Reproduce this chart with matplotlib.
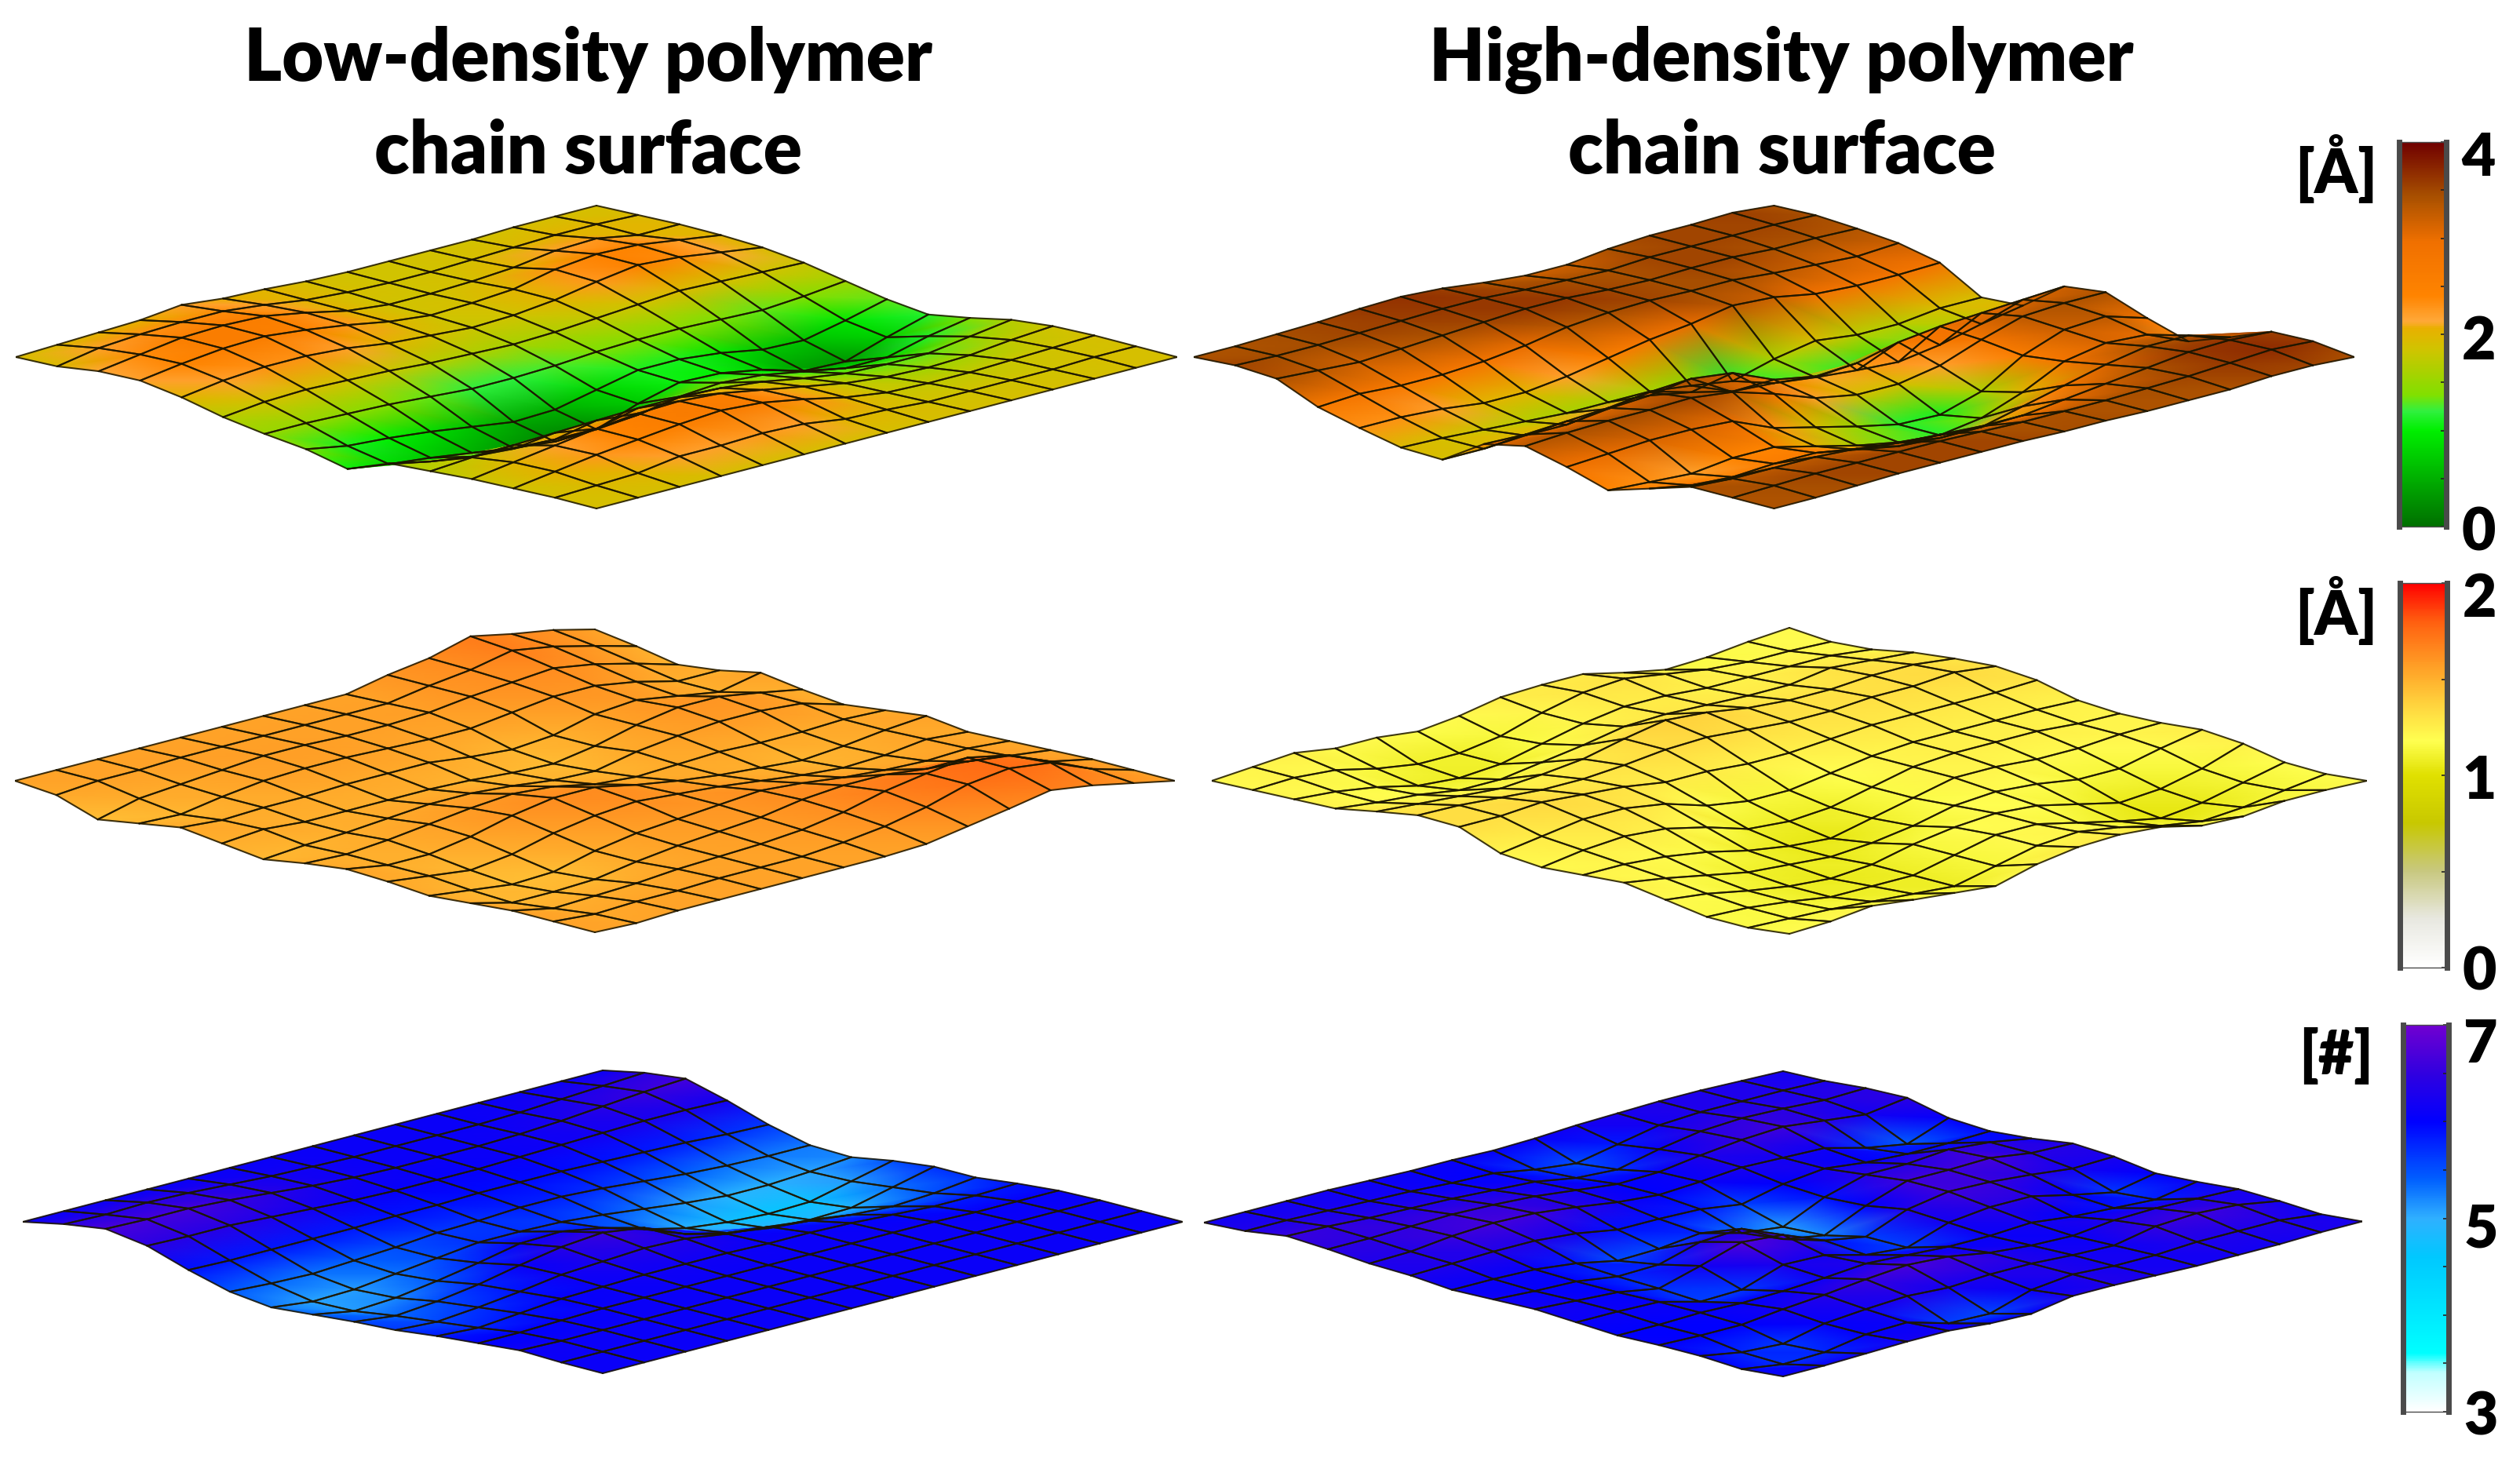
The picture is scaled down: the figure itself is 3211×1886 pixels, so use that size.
import numpy as np
import matplotlib
matplotlib.use("Agg")
import matplotlib.pyplot as plt
from matplotlib.collections import LineCollection
from matplotlib.colors import LinearSegmentedColormap, Normalize
from matplotlib.cm import ScalarMappable
from matplotlib.ticker import FixedLocator
from matplotlib.transforms import ScaledTranslation

plt.rcParams['font.family'] = ['Lato', 'DejaVu Sans']
plt.rcParams['font.weight'] = 'heavy'

# Rows run from the front-left edge to the back-right edge of each surface.
low_top = [
 [1.9,1.95,2.15,2.2,2.0,1.7,1.5,1.35,1.05,1.6,1.7,1.8,1.85,1.9,1.9],
 [1.95,2.2,2.35,2.4,2.2,1.85,1.5,1.1,0.85,1.3,1.8,2.0,2.05,1.95,1.9],
 [2.0,2.3,2.55,2.55,2.3,1.9,1.45,1.0,0.7,1.1,1.85,2.2,2.25,2.0,1.9],
 [2.05,2.35,2.6,2.6,2.3,1.85,1.4,0.85,0.5,1.0,1.9,2.4,2.4,2.2,1.9],
 [2.2,2.35,2.55,2.45,2.2,1.8,1.3,0.65,0.3,0.95,1.95,2.55,2.55,2.2,1.9],
 [2.05,2.2,2.3,2.25,2.0,1.7,1.2,0.45,0.15,0.95,2.0,2.6,2.65,2.25,1.9],
 [2.0,2.0,2.0,2.0,1.9,1.65,1.2,0.5,0.2,1.05,2.0,2.5,2.55,2.2,1.9],
 [1.9,1.9,1.85,1.85,1.8,1.6,1.25,0.8,0.7,1.3,1.95,2.25,2.3,2.0,1.9],
 [1.85,1.85,1.85,1.9,1.85,1.65,1.35,1.1,1.05,1.4,1.8,2.0,2.0,1.95,1.9],
 [1.85,1.85,1.9,2.0,2.0,1.75,1.4,1.1,1.0,1.3,1.55,1.75,1.8,1.85,1.9],
 [1.85,1.9,2.0,2.3,2.25,1.85,1.4,0.95,0.75,1.05,1.35,1.6,1.75,1.85,1.9],
 [1.85,1.95,2.2,2.45,2.45,1.95,1.35,0.7,0.35,0.8,1.3,1.55,1.75,1.85,1.9],
 [1.9,2.0,2.25,2.4,2.35,1.9,1.3,0.65,0.3,0.8,1.3,1.6,1.8,1.85,1.9],
 [1.9,2.0,2.0,2.2,2.15,1.85,1.4,0.95,0.75,1.15,1.5,1.75,1.85,1.9,1.9],
 [1.9,1.95,2.0,2.0,1.95,1.8,1.55,1.3,1.15,1.4,1.7,1.85,1.9,1.9,1.9],
]
high_top = [
 [3.4,3.5,3.4,2.7,2.3,1.95,1.9,2.95,3.3,2.9,2.4,2.9,3.4,3.4,3.4],
 [3.4,3.45,3.3,2.8,2.3,1.9,1.9,2.9,3.4,3.0,2.3,2.6,3.3,3.45,3.4],
 [3.45,3.45,3.2,2.7,2.2,1.8,2.0,3.0,3.45,3.1,2.2,2.5,3.3,3.5,3.45],
 [3.5,3.5,3.3,2.7,2.0,1.7,2.0,3.1,3.45,3.1,2.4,2.6,3.3,3.5,3.5],
 [3.6,3.55,3.4,2.8,2.0,1.6,2.2,3.3,3.5,3.0,2.4,2.6,3.2,3.5,3.5],
 [3.65,3.6,3.5,3.0,2.2,1.6,2.3,3.4,3.3,2.3,2.0,2.3,3.0,3.5,3.5],
 [3.55,3.6,3.6,3.3,2.5,1.6,2.0,3.2,2.8,1.9,1.6,2.0,2.9,3.45,3.5],
 [3.35,3.5,3.6,3.45,2.8,1.4,1.6,2.5,2.2,1.5,1.3,1.9,2.8,3.4,3.45],
 [3.2,3.45,3.5,3.5,3.0,1.15,1.5,2.2,1.9,1.15,1.15,1.9,2.8,3.4,3.45],
 [3.2,3.4,3.45,3.45,3.3,1.6,1.3,2.3,1.9,1.1,1.4,2.3,3.0,3.4,3.4],
 [3.4,3.5,3.5,3.45,3.2,1.9,1.15,2.7,2.2,1.6,2.0,2.7,3.2,3.45,3.4],
 [3.5,3.5,3.5,3.3,2.9,1.7,1.05,2.9,2.8,2.6,2.8,3.1,3.4,3.5,3.4],
 [3.5,3.5,3.4,3.2,2.8,1.7,1.3,3.0,3.3,3.2,3.1,3.4,3.6,3.6,3.5],
 [3.55,3.5,3.4,3.1,2.8,1.9,1.7,3.1,3.4,3.3,3.0,3.4,3.65,3.7,3.5],
 [3.4,3.45,3.35,3.2,2.85,1.9,2.0,3.2,3.4,2.8,2.3,2.9,3.55,3.6,3.4],
]
low_mid = [
 [1.55,1.53,1.45,1.49,1.53,1.50,1.47,1.51,1.54,1.53,1.51,1.53,1.55,1.55,1.55],
 [1.55,1.55,1.51,1.48,1.51,1.52,1.49,1.50,1.50,1.50,1.48,1.47,1.50,1.53,1.54],
 [1.55,1.55,1.53,1.52,1.52,1.50,1.50,1.52,1.50,1.47,1.45,1.47,1.51,1.54,1.55],
 [1.55,1.56,1.55,1.55,1.52,1.50,1.52,1.55,1.54,1.50,1.46,1.48,1.52,1.54,1.55],
 [1.55,1.56,1.57,1.56,1.53,1.50,1.54,1.58,1.60,1.56,1.52,1.52,1.54,1.55,1.55],
 [1.55,1.56,1.57,1.56,1.53,1.50,1.54,1.60,1.64,1.60,1.56,1.55,1.55,1.55,1.55],
 [1.55,1.56,1.56,1.55,1.53,1.49,1.52,1.58,1.64,1.62,1.58,1.57,1.56,1.55,1.55],
 [1.55,1.56,1.56,1.54,1.50,1.47,1.49,1.53,1.59,1.60,1.60,1.59,1.58,1.57,1.55],
 [1.55,1.56,1.57,1.54,1.48,1.46,1.48,1.51,1.55,1.58,1.62,1.63,1.62,1.60,1.56],
 [1.60,1.60,1.60,1.57,1.50,1.50,1.53,1.52,1.52,1.55,1.60,1.65,1.68,1.65,1.60],
 [1.635,1.63,1.62,1.60,1.56,1.56,1.56,1.53,1.50,1.52,1.57,1.65,1.72,1.72,1.64],
 [1.70,1.68,1.64,1.60,1.58,1.60,1.58,1.52,1.48,1.50,1.55,1.62,1.75,1.75,1.685],
 [1.65,1.64,1.60,1.56,1.54,1.60,1.58,1.52,1.50,1.51,1.54,1.60,1.70,1.72,1.65],
 [1.61,1.58,1.54,1.50,1.50,1.56,1.56,1.53,1.53,1.54,1.55,1.57,1.60,1.62,1.60],
 [1.55,1.515,1.47,1.50,1.55,1.515,1.49,1.52,1.55,1.52,1.53,1.54,1.55,1.55,1.55],
]
high_mid = [
 [1.20,1.21,1.22,1.23,1.28,1.325,1.32,1.22,1.20,1.22,1.24,1.20,1.16,1.16,1.19],
 [1.22,1.22,1.20,1.20,1.26,1.32,1.32,1.26,1.24,1.22,1.20,1.17,1.15,1.15,1.20],
 [1.24,1.20,1.16,1.18,1.24,1.30,1.34,1.30,1.26,1.20,1.15,1.12,1.12,1.14,1.23],
 [1.20,1.14,1.10,1.14,1.22,1.28,1.32,1.30,1.24,1.16,1.10,1.08,1.08,1.12,1.20],
 [1.20,1.10,1.08,1.14,1.24,1.28,1.30,1.26,1.18,1.10,1.08,1.06,1.08,1.10,1.175],
 [1.17,1.10,1.10,1.18,1.27,1.30,1.26,1.18,1.10,1.06,1.06,1.08,1.08,1.08,1.15],
 [1.20,1.14,1.16,1.22,1.33,1.33,1.26,1.14,1.08,1.04,1.08,1.14,1.14,1.14,1.22],
 [1.25,1.22,1.22,1.27,1.38,1.34,1.24,1.14,1.10,1.10,1.12,1.18,1.20,1.20,1.26],
 [1.26,1.28,1.26,1.28,1.36,1.32,1.24,1.18,1.16,1.16,1.18,1.20,1.20,1.22,1.27],
 [1.26,1.30,1.26,1.27,1.32,1.30,1.26,1.22,1.22,1.22,1.20,1.18,1.14,1.18,1.25],
 [1.20,1.26,1.24,1.26,1.30,1.30,1.28,1.24,1.24,1.22,1.18,1.12,1.08,1.12,1.19],
 [1.15,1.22,1.24,1.26,1.30,1.32,1.28,1.24,1.24,1.20,1.14,1.06,1.03,1.08,1.18],
 [1.16,1.20,1.24,1.30,1.32,1.32,1.28,1.24,1.24,1.20,1.14,1.08,1.06,1.10,1.21],
 [1.19,1.20,1.24,1.28,1.32,1.34,1.28,1.24,1.22,1.22,1.20,1.14,1.12,1.14,1.21],
 [1.21,1.19,1.21,1.26,1.29,1.31,1.29,1.23,1.215,1.225,1.25,1.23,1.18,1.175,1.20],
]
low_bot = [
 [6.1,6.45,6.7,6.45,5.9,5.45,5.25,5.4,5.55,5.65,5.85,6.0,6.15,6.1,6.1],
 [6.1,6.4,6.65,6.4,5.85,5.35,5.05,5.1,5.35,5.55,5.75,6.0,6.1,6.1,6.1],
 [6.1,6.45,6.65,6.4,5.85,5.3,5.1,5.2,5.5,5.7,5.9,6.05,6.1,6.1,6.1],
 [6.1,6.4,6.55,6.3,5.85,5.4,5.3,5.45,5.75,5.9,6.05,6.1,6.1,6.1,6.1],
 [6.1,6.3,6.4,6.2,5.85,5.5,5.5,5.75,6.1,6.15,6.1,6.1,6.1,6.1,6.1],
 [6.1,6.2,6.25,6.1,5.9,5.65,5.7,6.1,6.4,6.25,6.15,6.1,6.1,6.1,6.1],
 [6.1,6.15,6.15,6.05,5.9,5.7,5.7,6.15,6.55,6.35,6.15,6.1,6.1,6.1,6.1],
 [6.1,6.1,6.1,6.05,5.95,5.8,5.65,5.85,6.3,6.3,6.15,6.1,6.1,6.1,6.1],
 [6.1,6.1,6.1,6.05,5.95,5.8,5.5,5.35,5.6,6.05,6.1,6.1,6.1,6.1,6.1],
 [6.1,6.1,6.1,6.1,5.95,5.7,5.3,4.95,5.2,5.9,6.1,6.1,6.1,6.1,6.1],
 [6.1,6.1,6.15,6.15,5.9,5.55,5.1,4.75,4.95,5.7,6.05,6.1,6.1,6.1,6.1],
 [6.1,6.15,6.25,6.2,5.85,5.4,4.95,4.65,4.85,5.5,5.95,6.1,6.1,6.1,6.1],
 [6.1,6.25,6.4,6.25,5.8,5.3,4.95,4.7,4.9,5.4,5.85,6.05,6.1,6.1,6.1],
 [6.1,6.35,6.55,6.25,5.7,5.25,5.05,5.1,5.3,5.5,5.85,6.05,6.1,6.1,6.1],
 [6.1,6.45,6.65,6.2,5.65,5.25,5.2,5.5,5.7,5.7,5.9,6.05,6.1,6.1,6.1],
]
high_bot = [
 [6.2,6.3,6.55,6.45,6.3,6.25,6.1,6.15,6.2,6.1,6.0,6.05,6.05,5.95,6.1],
 [6.2,6.3,6.5,6.45,6.35,6.3,6.1,6.05,6.1,6.1,6.0,6.0,5.75,5.7,6.1],
 [6.2,6.25,6.4,6.5,6.55,6.35,6.05,6.0,6.0,6.05,6.05,6.0,5.65,5.75,6.15],
 [6.2,6.2,6.35,6.55,6.65,6.35,5.85,5.75,5.7,5.6,6.0,6.2,6.05,6.05,6.2],
 [6.15,6.15,6.3,6.5,6.6,6.2,5.5,5.8,6.2,5.65,6.05,6.35,6.2,6.1,6.2],
 [6.1,6.05,6.2,6.4,6.4,5.9,5.55,6.3,6.75,6.25,6.15,6.55,6.3,5.6,6.05],
 [6.1,6.0,6.1,6.2,6.15,5.9,5.75,6.4,6.6,6.2,6.3,6.7,6.2,5.55,6.0],
 [6.05,5.7,5.8,6.0,6.0,5.85,5.3,5.5,5.9,5.75,6.2,6.6,6.3,6.1,6.3],
 [6.1,5.5,5.7,6.05,6.1,5.6,5.1,5.2,5.6,5.6,6.1,6.3,6.3,6.3,6.3],
 [6.2,5.85,6.1,6.3,6.25,6.0,5.9,6.0,6.3,6.2,6.1,6.15,6.2,6.2,6.25],
 [6.25,6.2,6.4,6.5,6.2,6.2,6.4,6.6,6.6,6.4,6.2,6.1,6.15,6.2,6.2],
 [6.3,6.3,6.5,6.6,6.15,6.0,6.4,6.6,6.55,6.4,6.0,6.3,6.5,6.3,6.2],
 [6.3,6.3,6.45,6.4,5.7,5.9,6.55,6.65,6.4,6.0,5.9,6.35,6.6,6.3,6.2],
 [6.25,6.3,6.35,6.2,5.4,5.9,6.4,6.4,6.2,5.65,5.8,6.3,6.5,6.3,6.25],
 [6.2,6.25,6.4,6.45,6.05,5.95,6.1,6.35,6.25,6.0,6.1,6.25,6.2,6.1,6.25],
]

titles = [["Low-density polymer", "chain surface"], ["High-density polymer", "chain surface"]]
units = ["[Å]", "[Å]", "[#]"]
scale_limits = [(0, 4), (0, 2), (3, 7)]
major_ticks = [[0, 2, 4], [0, 1, 2], [3, 5, 7]]
minor_ticks = [[0.5, 1, 1.5, 2.5, 3, 3.5], [0.5, 1.5], [3.5, 4, 4.5, 5.5, 6, 6.5]]

W, H = 3212, 1886
DPI = 100
fig = plt.figure(figsize=(W / DPI, H / DPI), dpi=DPI, facecolor='white')


def px_axes(left, top, right, bottom, **kw):
    return fig.add_axes([left / W, 1 - bottom / H, (right - left) / W, (bottom - top) / H], **kw)


cmap_top = LinearSegmentedColormap.from_list('top', [
    (0.0, '#007000'), (0.25, '#00f000'), (0.30, '#30f040'), (0.34, '#80e000'),
    (0.46, '#d0c400'), (0.515, '#e8b000'), (0.535, '#ffa838'), (0.60, '#ff8400'),
    (0.74, '#f07000'), (0.86, '#a85000'), (1.0, '#700000')])
cmap_mid = LinearSegmentedColormap.from_list('mid', [
    (0.0, '#ffffff'), (0.125, '#e8e8e0'), (0.25, '#c8c880'), (0.375, '#c8c800'),
    (0.5, '#e0e000'), (0.59, '#ffff50'), (0.675, '#ffd840'), (0.775, '#ffa428'),
    (0.9, '#ff6010'), (1.0, '#ff0000')])
cmap_bot = LinearSegmentedColormap.from_list('bot', [
    (0.0, '#ffffff'), (0.1, '#c0ffff'), (0.15, '#00ffff'), (0.4, '#00c8ff'),
    (0.5, '#30b0ff'), (0.6, '#0060ff'), (0.75, '#0000ff'), (0.875, '#3000e0'),
    (1.0, '#7000d0')])

LINE = '#1c1600'


def draw_surface(values, cmap, lims, left, right, mid, half, base, gain):
    """Project a height grid onto a skewed diamond, painted from back to front."""
    z = np.asarray(values, float)
    n = z.shape[0]
    margin_px = 130
    ax = px_axes(left, mid - half - margin_px, right, mid + half + margin_px)
    ax.set_axis_off()
    jj, ii = np.indices(z.shape)
    unit = half / (n - 1)
    x = (ii + jj).astype(float)
    y = (jj - ii) + (z - base) * gain / unit
    xf, yf, cf = x.ravel(), y.ravel(), z.ravel()
    norm = Normalize(*lims)
    order = lambda a, b: a * n + b
    for d in range(-(n - 2), n - 1):
        tris, segs = [], []
        for j in range(n - 1):
            i = j + d
            if i < 0 or i >= n - 1:
                continue
            a, b, c, e = order(j, i), order(j, i + 1), order(j + 1, i + 1), order(j + 1, i)
            tris += [[a, b, c], [a, c, e]]
            for p, q in ((a, b), (b, c), (c, e), (e, a)):
                segs.append([(xf[p], yf[p]), (xf[q], yf[q])])
        ax.tripcolor(xf, yf, tris, cf, shading='gouraud', cmap=cmap, norm=norm)
        ax.add_collection(LineCollection(segs, colors=LINE, linewidths=1.5, alpha=0.85, capstyle='round'))
    ax.set_xlim(0, 2 * (n - 1))
    extra = margin_px / unit
    ax.set_ylim(-(n - 1) - extra, (n - 1) + extra)


draw_surface(low_top, cmap_top, scale_limits[0], 20, 1500, 455, 193, 1.9, 38)
draw_surface(high_top, cmap_top, scale_limits[0], 1521, 3000, 455, 193, 3.4, 32)
draw_surface(low_mid, cmap_mid, scale_limits[1], 19, 1497, 995, 193, 1.55, 217)
draw_surface(high_mid, cmap_mid, scale_limits[1], 1544, 3016, 995, 193, 1.20, 200)
draw_surface(low_bot, cmap_bot, scale_limits[2], 29, 1507, 1557, 193, 6.1, 31)
draw_surface(high_bot, cmap_bot, scale_limits[2], 1534, 3010, 1558, 193, 6.2, 30)

for col, cx in enumerate((750, 2270)):
    for line, cy in zip(titles[col], (76, 194)):
        fig.text(cx / W, 1 - cy / H, line, ha='center', va='center', fontsize=66, fontweight='heavy')

bar_boxes = [(3057, 181, 3117, 671), (3058, 743, 3118, 1233), (3062, 1306, 3120, 1799)]
bar_cmaps = [cmap_top, cmap_mid, cmap_bot]
unit_pos = [(2977, 215), (2977, 778), (2977, 1346)]
label_shift = [[-2, -4, -14], [0, -1, -15], [-1, -9, -19]]

for k, box in enumerate(bar_boxes):
    cax = px_axes(*box)
    sm = ScalarMappable(norm=Normalize(*scale_limits[k]), cmap=bar_cmaps[k])
    cb = fig.colorbar(sm, cax=cax)
    cb.set_ticks(major_ticks[k])
    cb.set_ticklabels([str(t) for t in major_ticks[k]])
    cb.ax.yaxis.set_minor_locator(FixedLocator(minor_ticks[k]))
    cb.ax.tick_params(which='major', direction='in', length=5, width=1.2, color='#222222',
                      labelsize=54, pad=14)
    cb.ax.tick_params(which='minor', direction='in', length=5, width=1.2, color='#222222')
    cb.outline.set_visible(False)
    for side, lw in (('left', 5), ('right', 5), ('top', 1), ('bottom', 1)):
        cax.spines[side].set_visible(True)
        cax.spines[side].set_linewidth(lw)
        cax.spines[side].set_color('#4a4a4a')
    for lab, dy in zip(cb.ax.get_yticklabels(), label_shift[k]):
        lab.set_fontweight('heavy')
        lab.set_transform(lab.get_transform() + ScaledTranslation(0, dy / DPI, fig.dpi_scale_trans))
    fig.text(unit_pos[k][0] / W, 1 - unit_pos[k][1] / H, units[k], ha='center', va='center',
             fontsize=56, fontweight='heavy')

fig.savefig('out.png', dpi=DPI, facecolor='white')
